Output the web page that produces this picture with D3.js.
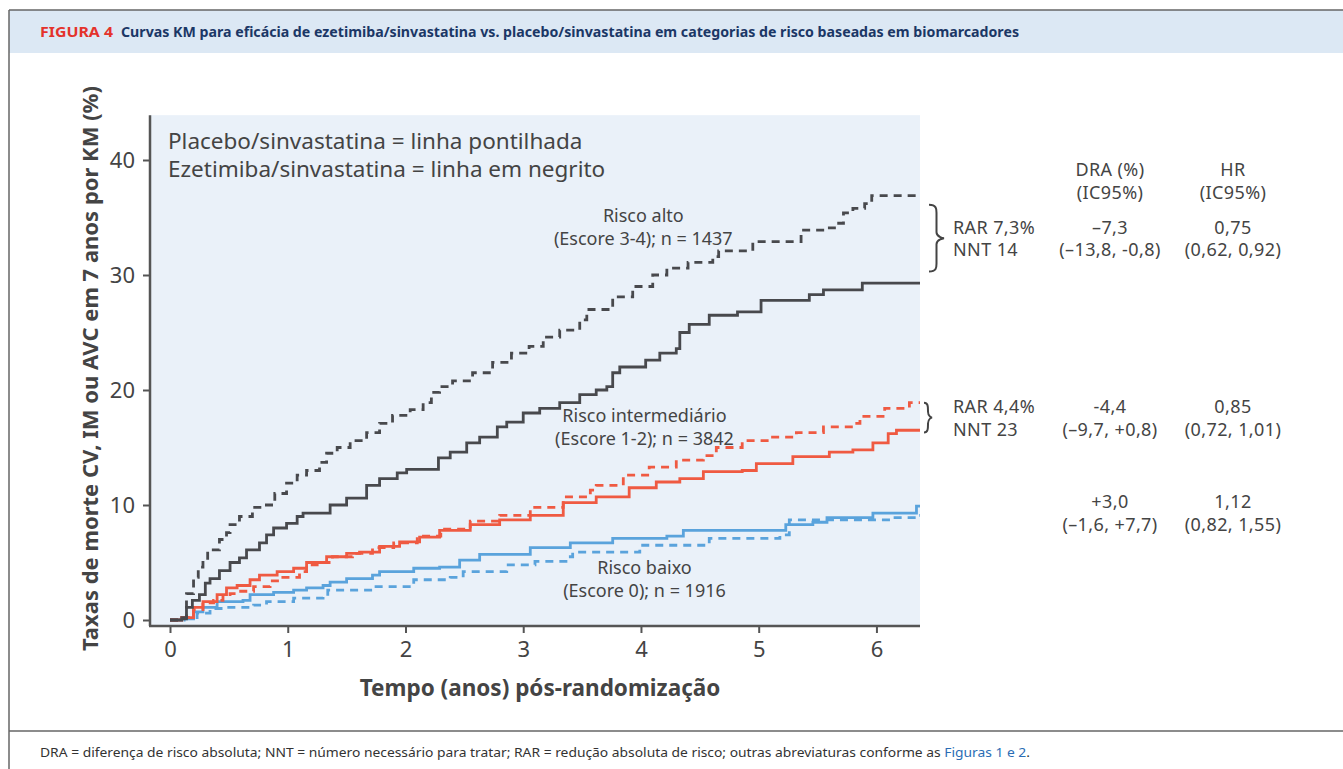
<html>
<head>
<meta charset="utf-8">
<script src="https://cdn.jsdelivr.net/npm/d3@7"></script>
<style>
  body { margin: 0; background: #fff; }
  text { font-family: "Noto Sans", "Open Sans", sans-serif; }
</style>
</head>
<body>
<script>

// KM curves, [years, %] step points
let altoPlacebo = [[0,0],[0.1,0.2],[0.14,2.3],[0.2,3.7],[0.24,4.6],[0.28,5.2],[0.32,6.1],[0.42,7.0],[0.48,7.6],[0.51,8.3],[0.59,9.0],[0.7,9.8],[0.79,10.0],[0.89,11.0],[0.99,11.9],[1.08,12.6],[1.16,13.0],[1.27,13.7],[1.33,14.5],[1.42,15.0],[1.53,15.6],[1.67,16.3],[1.78,17.1],[1.89,17.8],[2.04,18.3],[2.15,18.9],[2.22,19.8],[2.29,20.3],[2.4,20.8],[2.57,21.5],[2.74,22.4],[2.9,23.2],[3.05,23.8],[3.17,24.6],[3.31,25.2],[3.48,26.1],[3.54,27.0],[3.76,28.1],[3.93,29.0],[4.1,30.0],[4.22,30.6],[4.4,31.1],[4.61,31.6],[4.66,32.1],[4.95,32.9],[5.36,33.9],[5.6,34.1],[5.66,34.5],[5.72,35.4],[5.8,35.8],[5.9,36.2],[5.96,36.9],[6.37,36.9]];
let altoEzetimiba = [[0,0],[0.1,0.1],[0.14,1.1],[0.19,1.7],[0.25,2.2],[0.3,3.2],[0.34,3.6],[0.42,4.3],[0.51,5.0],[0.59,5.4],[0.65,6.1],[0.76,6.7],[0.82,7.4],[0.88,8.0],[0.99,8.4],[1.08,9.0],[1.13,9.3],[1.36,10.0],[1.5,10.6],[1.67,11.7],[1.78,12.3],[1.93,12.8],[2.01,13.1],[2.24,13.1],[2.28,14.1],[2.38,14.6],[2.52,15.4],[2.63,15.9],[2.78,16.8],[2.86,17.2],[3.0,18.0],[3.14,18.4],[3.31,18.9],[3.48,19.6],[3.62,20.0],[3.71,20.3],[3.76,21.5],[3.82,22.0],[4.04,22.6],[4.16,23.2],[4.3,23.6],[4.33,25.0],[4.41,25.7],[4.58,26.5],[4.82,26.8],[5.02,27.8],[5.43,28.3],[5.55,28.7],[5.88,29.3],[6.37,29.3]];
let interPlacebo = [[0,0],[0.1,0.2],[0.2,0.9],[0.28,1.5],[0.37,1.7],[0.45,2.2],[0.51,2.3],[0.57,2.5],[0.71,2.9],[0.85,3.4],[0.93,3.7],[1.1,4.2],[1.16,4.8],[1.25,5.0],[1.38,5.5],[1.55,5.8],[1.72,6.3],[1.9,6.7],[2.1,7.3],[2.3,7.9],[2.55,8.6],[2.8,9.1],[3.06,9.8],[3.34,10.7],[3.57,11.3],[3.62,11.7],[3.85,12.6],[4.07,13.3],[4.3,13.9],[4.53,14.3],[4.64,15.0],[4.86,15.6],[5.09,15.9],[5.32,16.3],[5.55,16.8],[5.8,17.1],[5.86,17.7],[6.07,18.4],[6.28,18.9],[6.37,18.9]];
let interEzetimiba = [[0,0],[0.1,0.2],[0.2,1.1],[0.28,1.6],[0.4,2.2],[0.48,2.8],[0.57,3.0],[0.68,3.5],[0.76,3.9],[0.91,4.2],[1.05,4.5],[1.16,5.0],[1.33,5.5],[1.5,5.8],[1.61,5.9],[1.78,6.4],[1.95,6.8],[2.12,7.2],[2.29,7.8],[2.55,8.3],[2.8,8.7],[3.06,9.1],[3.34,10.2],[3.62,10.7],[3.9,11.5],[4.13,12.0],[4.33,12.3],[4.53,12.9],[4.86,13.0],[4.98,13.6],[5.29,14.2],[5.6,14.6],[5.8,14.8],[5.97,15.4],[6.1,16.2],[6.17,16.5],[6.37,16.5]];
let baixoPlacebo = [[0,0],[0.12,0.2],[0.23,0.6],[0.34,1.0],[0.48,1.1],[0.71,1.3],[0.82,1.6],[1.05,1.9],[1.3,2.0],[1.34,2.6],[1.72,2.9],[2.07,3.5],[2.38,3.7],[2.49,4.2],[2.86,4.8],[3.1,5.1],[3.4,5.5],[3.42,5.9],[3.99,6.5],[4.58,7.1],[5.18,7.4],[5.26,8.7],[6.14,8.9],[6.34,9.1],[6.37,9.1]];
let baixoEzetimiba = [[0,0],[0.1,0.1],[0.2,0.7],[0.28,1.1],[0.4,1.6],[0.62,1.7],[0.68,2.2],[0.88,2.4],[1.05,2.6],[1.16,2.8],[1.3,3.0],[1.36,3.3],[1.5,3.6],[1.72,3.9],[1.78,4.2],[2.07,4.5],[2.29,4.6],[2.46,5.2],[2.63,5.7],[3.06,6.3],[3.4,6.7],[3.76,7.1],[4.22,7.3],[4.36,7.8],[5.18,7.8],[5.23,8.3],[5.46,8.5],[5.58,8.9],[5.97,9.3],[6.34,9.9],[6.37,9.9]];

let xTicks = [0, 1, 2, 3, 4, 5, 6];
let yTicks = [0, 10, 20, 30, 40];
let xMax = 6.37;
let yTop = 43.9;

let groupLabels = [
  { lines: ["Risco alto", "(Escore 3-4); n = 1437"], t: 4.02, v: 34.6 },
  { lines: ["Risco intermediário", "(Escore 1-2); n = 3842"], t: 4.03, v: 17.2 },
  { lines: ["Risco baixo", "(Escore 0); n = 1916"], t: 4.03, v: 4.0 }
];

let colHeaders = [["DRA (%)", "(IC95%)"], ["HR", "(IC95%)"]];
let rarRows = [["RAR 7,3%", "NNT 14"], ["RAR 4,4%", "NNT 23"], null];
let draRows = [["–7,3", "(–13,8, -0,8)"], ["-4,4", "(–9,7, +0,8)"], ["+3,0", "(–1,6, +7,7)"]];
let hrRows = [["0,75", "(0,62, 0,92)"], ["0,85", "(0,72, 1,01)"], ["1,12", "(0,82, 1,55)"]];
let rowValues = [33.6, 18.0, 9.7];

let colors = { alto: "#48494d", inter: "#ef5a42", baixo: "#5aa3dc" };

let canvasW = 1343;
let canvasH = 769;

let svg = d3.select("body").append("svg")
  .attr("width", canvasW)
  .attr("height", canvasH);

// frame and header band
svg.append("rect").attr("x", 9).attr("y", 10).attr("width", canvasW - 9).attr("height", 43)
  .attr("fill", "#dce8f4");
svg.append("line").attr("x1", 9).attr("x2", canvasW).attr("y1", 10).attr("y2", 10)
  .attr("stroke", "#666").attr("stroke-width", 1.5);
svg.append("line").attr("x1", 9).attr("x2", 9).attr("y1", 10).attr("y2", canvasH)
  .attr("stroke", "#666").attr("stroke-width", 1.5);
svg.append("line").attr("x1", 9).attr("x2", canvasW).attr("y1", 731).attr("y2", 731)
  .attr("stroke", "#666").attr("stroke-width", 1.5);

let condensed = "'DejaVu Sans Condensed', 'Liberation Sans Narrow', 'Noto Sans', sans-serif";
svg.append("text").attr("x", 40).attr("y", 37)
  .attr("font-family", condensed).attr("font-weight", "bold").attr("font-size", "14px")
  .attr("fill", "#e4322b").attr("textLength", 73).attr("lengthAdjust", "spacingAndGlyphs")
  .text("FIGURA 4");
svg.append("text").attr("x", 121).attr("y", 37)
  .attr("font-family", condensed).attr("font-weight", "bold").attr("font-size", "14px")
  .attr("fill", "#1b3766").attr("textLength", 898).attr("lengthAdjust", "spacingAndGlyphs")
  .text("Curvas KM para eficácia de ezetimiba/sinvastatina vs. placebo/sinvastatina em categorias de risco baseadas em biomarcadores");

let foot = svg.append("text").attr("x", 40).attr("y", 757)
  .attr("font-family", condensed).attr("font-size", "13px").attr("fill", "#333")
  .attr("textLength", 990).attr("lengthAdjust", "spacingAndGlyphs");
foot.append("tspan").text("DRA = diferença de risco absoluta; NNT = número necessário para tratar; RAR = redução absoluta de risco; outras abreviaturas conforme as ");
foot.append("tspan").attr("fill", "#2a6db5").text("Figuras 1 e 2");
foot.append("tspan").text(".");

// scales
let x = d3.scaleLinear().domain([0, xMax]).range([170, 920]);
let y = d3.scaleLinear().domain([0, 40]).range([620, 160]);
let axisX = 150, axisY = 626;

svg.append("rect")
  .attr("x", axisX).attr("y", y(yTop))
  .attr("width", x(xMax) - axisX).attr("height", axisY - y(yTop))
  .attr("fill", "#eaf1f9");

// axes
let gx = svg.append("g").attr("transform", `translate(0,${axisY})`)
  .call(d3.axisBottom(x).tickValues(xTicks).tickFormat(d3.format("d")).tickSize(7).tickPadding(8).tickSizeOuter(0));
gx.select(".domain").remove();
let gy = svg.append("g").attr("transform", `translate(${axisX},0)`)
  .call(d3.axisLeft(y).tickValues(yTicks).tickFormat(d3.format("d")).tickSize(7).tickPadding(8).tickSizeOuter(0));
gy.select(".domain").remove();
[gx, gy].forEach(g => {
  g.selectAll("line").attr("stroke", "#555").attr("stroke-width", 2);
  g.selectAll("text").attr("font-family", "'Noto Sans', sans-serif").attr("font-size", "22px").attr("fill", "#444");
});
svg.append("line").attr("x1", axisX - 1).attr("x2", x(xMax)).attr("y1", axisY).attr("y2", axisY)
  .attr("stroke", "#555").attr("stroke-width", 2.5);
svg.append("line").attr("x1", axisX).attr("x2", axisX).attr("y1", y(yTop)).attr("y2", axisY)
  .attr("stroke", "#555").attr("stroke-width", 2.5);

svg.append("text")
  .attr("transform", `translate(98,${(y(yTop) + axisY) / 2 - 2}) rotate(-90)`)
  .attr("text-anchor", "middle").attr("font-weight", "bold").attr("font-size", "22px").attr("fill", "#444")
  .text("Taxas de morte CV, IM ou AVC em 7 anos por KM (%)");
svg.append("text")
  .attr("x", 540).attr("y", 696)
  .attr("text-anchor", "middle").attr("font-weight", "bold").attr("font-size", "22.5px").attr("fill", "#444")
  .text("Tempo (anos) pós-randomização");

// legend note
svg.append("text").attr("x", 168).attr("y", 149).attr("font-size", "22.5px").attr("fill", "#444")
  .text("Placebo/sinvastatina = linha pontilhada");
svg.append("text").attr("x", 168).attr("y", 177).attr("font-size", "22.5px").attr("fill", "#444")
  .text("Ezetimiba/sinvastatina = linha em negrito");

// curves
let line = d3.line().x(d => x(d[0])).y(d => y(d[1])).curve(d3.curveStepAfter);
let series = [
  { data: baixoPlacebo, color: colors.baixo, dash: "8,6" },
  { data: baixoEzetimiba, color: colors.baixo, dash: null },
  { data: interPlacebo, color: colors.inter, dash: "8,6" },
  { data: interEzetimiba, color: colors.inter, dash: null },
  { data: altoPlacebo, color: colors.alto, dash: "8,6" },
  { data: altoEzetimiba, color: colors.alto, dash: null }
];
svg.selectAll(".km")
  .data(series)
  .enter()
  .append("path")
  .attr("class", "km")
  .attr("d", d => line(d.data))
  .attr("fill", "none")
  .attr("stroke", d => d.color)
  .attr("stroke-width", 2.8)
  .attr("stroke-dasharray", d => d.dash);

// group labels
groupLabels.forEach(g => {
  g.lines.forEach((s, i) => {
    svg.append("text")
      .attr("x", x(g.t)).attr("y", y(g.v) + i * 23)
      .attr("text-anchor", "middle").attr("font-size", "18px").attr("fill", "#444")
      .text(s);
  });
});

// braces
function brace(xl, y0, y1, w) {
  let m = (y0 + y1) / 2;
  let q = w / 2;
  return `M${xl},${y0} C${xl + q},${y0} ${xl + q},${y0 + 4} ${xl + q},${y0 + 8} L${xl + q},${m - 6} C${xl + q},${m - 1} ${xl + w},${m} ${xl + w},${m}` +
         ` C${xl + w},${m} ${xl + q},${m + 1} ${xl + q},${m + 6} L${xl + q},${y1 - 8} C${xl + q},${y1 - 4} ${xl + q},${y1} ${xl},${y1}`;
}
svg.append("path").attr("d", brace(929, y(36.1), y(30.3), 15))
  .attr("fill", "none").attr("stroke", "#444").attr("stroke-width", 2);
svg.append("path").attr("d", brace(924, y(18.9), y(16.3), 8))
  .attr("fill", "none").attr("stroke", "#444").attr("stroke-width", 2);

// right-hand table
let colX = [1110, 1233];
let tableFont = "18px";
let tableGap = 22.5;
function tableText(tx, ty, s, anchor) {
  svg.append("text").attr("x", tx).attr("y", ty)
    .attr("text-anchor", anchor).attr("font-size", tableFont).attr("letter-spacing", "0.4px")
    .attr("fill", "#444").text(s);
}
colHeaders.forEach((h, i) => {
  h.forEach((s, j) => tableText(colX[i], 176 + j * tableGap, s, "middle"));
});
rowValues.forEach((v, r) => {
  let ty = y(v);
  if (rarRows[r]) {
    rarRows[r].forEach((s, j) => tableText(953, ty + j * tableGap, s, "start"));
  }
  draRows[r].forEach((s, j) => tableText(colX[0], ty + j * tableGap, s, "middle"));
  hrRows[r].forEach((s, j) => tableText(colX[1], ty + j * tableGap, s, "middle"));
});

</script>
</body>
</html>
